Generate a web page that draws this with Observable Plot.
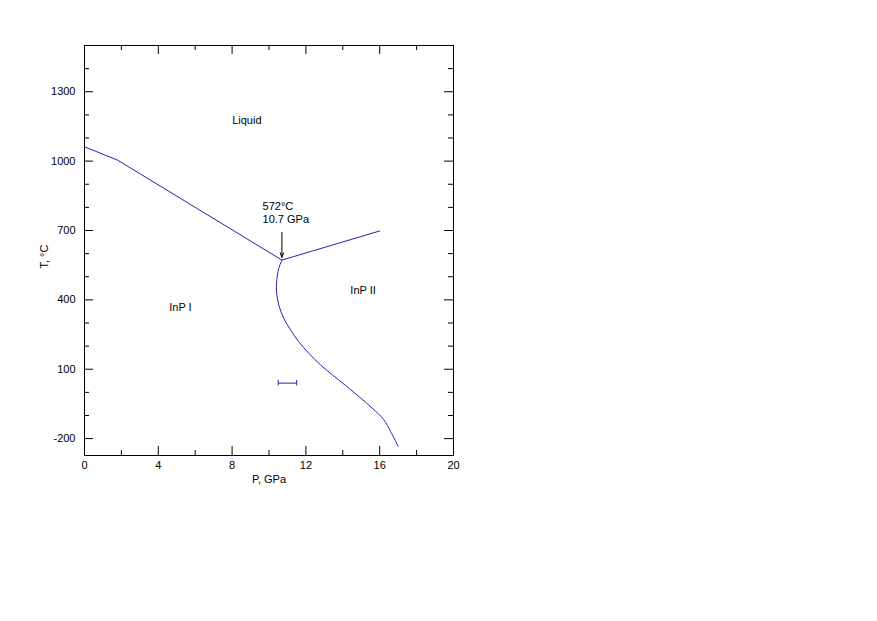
<!DOCTYPE html>
<html>
<head>
<meta charset="utf-8">
<script src="https://cdn.jsdelivr.net/npm/d3@7"></script>
<script src="https://cdn.jsdelivr.net/npm/@observablehq/plot@0.6"></script>
<style>
  html, body { margin: 0; padding: 0; background: #fff; }
  svg { display: block; }
</style>
</head>
<body>
<div id="chart"></div>
<script>
// Phase boundaries (P in GPa, T in °C)
const liquidusP = [0, 1.8, 10.7];
const liquidusT = [1062, 1004, 572];
const upperP = [10.7, 16.0];
const upperT = [572, 698];
const lowerP = [10.7, 10.53, 10.41, 10.41, 10.53, 10.80, 11.17, 11.61, 12.16, 12.79, 13.43, 14.15, 14.87, 15.59, 16.22, 16.59, 17.0];
const lowerT = [572, 536, 478, 435, 378, 320, 270, 219, 169, 119, 76, 30, -18, -68, -118, -169, -233];

// Error bar
const errP = [10.5, 11.5];
const errT = 40;

// Region labels
const regionNames = ["Liquid", "InP I", "InP II"];
const regionP = [8.8, 5.2, 15.1];
const regionT = [1175, 365, 442];

// Triple point annotation
const tripleLines = ["572°C", "10.7 GPa"];
const tripleLabelP = 9.65;
const tripleLabelT = [804, 748];
const arrowP = 10.7;
const arrowT = [692, 584];

// Axis ticks
const xMajor = [0, 4, 8, 12, 16, 20];
const xMinor = [2, 6, 10, 14, 18];
const yMajor = [-200, 100, 400, 700, 1000, 1300];
const yMinor = [-100, 0, 200, 300, 500, 600, 800, 900, 1100, 1200, 1400];

const toPts = (ps, ts) => ps.map((p, i) => ({P: p, T: ts[i]}));
const liquidus = toPts(liquidusP, liquidusT);
const upper = toPts(upperP, upperT);
const lower = toPts(lowerP, lowerT);
const regions = regionNames.map((n, i) => ({name: n, P: regionP[i], T: regionT[i]}));
const tripleText = tripleLines.map((s, i) => ({s, P: tripleLabelP, T: tripleLabelT[i]}));

const W = 877, H = 621;
const mL = 84, mR = 877 - 453, mT = 45, mB = 621 - 455;
const pw = W - mL - mR, ph = H - mT - mB;
const majLen = 9, minLen = 5;
const blue = "#2323b0";
const font = "Liberation Sans, Arial, sans-serif";

const chart = Plot.plot({
  width: W,
  height: H,
  marginLeft: mL,
  marginRight: mR,
  marginTop: mT,
  marginBottom: mB,
  style: {fontFamily: font, fontSize: "11px", color: "#000", background: "#fff"},
  x: {domain: [0, 20], label: null},
  y: {domain: [-273, 1500], label: null},
  marks: [
    Plot.frame({stroke: "#000", strokeWidth: 1}),
    // inward ticks: bottom
    Plot.tickX(xMajor, {x: d => d, insetTop: ph - majLen, stroke: "#000"}),
    Plot.tickX(xMinor, {x: d => d, insetTop: ph - minLen, stroke: "#000"}),
    // top
    Plot.tickX(xMajor, {x: d => d, insetBottom: ph - majLen, stroke: "#000"}),
    Plot.tickX(xMinor, {x: d => d, insetBottom: ph - minLen, stroke: "#000"}),
    // left
    Plot.tickY(yMajor, {y: d => d, insetRight: pw - majLen, stroke: "#000"}),
    Plot.tickY(yMinor, {y: d => d, insetRight: pw - minLen, stroke: "#000"}),
    // right
    Plot.tickY(yMajor, {y: d => d, insetLeft: pw - majLen, stroke: "#000"}),
    Plot.tickY(yMinor, {y: d => d, insetLeft: pw - minLen, stroke: "#000"}),
    Plot.axisX({ticks: xMajor, tickSize: 0, tickPadding: 6, tickFormat: d => String(d), label: null}),
    Plot.axisY({ticks: yMajor, tickSize: 0, tickPadding: 9, tickFormat: d => String(d), label: null}),
    // axis titles
    Plot.text(["P, GPa"], {frameAnchor: "bottom", dy: 27, text: d => d, fill: "#000"}),
    Plot.text(["T, °C"], {frameAnchor: "left", dx: -40, dy: 18, rotate: -90, text: d => d, fill: "#000"}),
    // phase boundaries
    Plot.line(liquidus, {x: "P", y: "T", stroke: blue, strokeWidth: 1}),
    Plot.line(upper, {x: "P", y: "T", stroke: blue, strokeWidth: 1}),
    Plot.line(lower, {x: "P", y: "T", stroke: blue, strokeWidth: 1, curve: "catmull-rom"}),
    // error bar
    Plot.link([{P1: errP[0], P2: errP[1], T: errT}], {x1: "P1", x2: "P2", y1: "T", y2: "T", stroke: blue}),
    Plot.ruleX(errP, {x: d => d, y1: errT - 12, y2: errT + 12, stroke: blue}),
    // labels
    Plot.text(regions, {x: "P", y: "T", text: "name", fill: "#000"}),
    Plot.text(tripleText, {x: "P", y: "T", text: "s", textAnchor: "start", fill: "#000"}),
    Plot.arrow([{P: arrowP, T1: arrowT[0], T2: arrowT[1]}], {x1: "P", x2: "P", y1: "T1", y2: "T2", stroke: "#000", headLength: 7, headAngle: 40, strokeWidth: 1})
  ]
});
document.getElementById("chart").appendChild(chart);
</script>
</body>
</html>
